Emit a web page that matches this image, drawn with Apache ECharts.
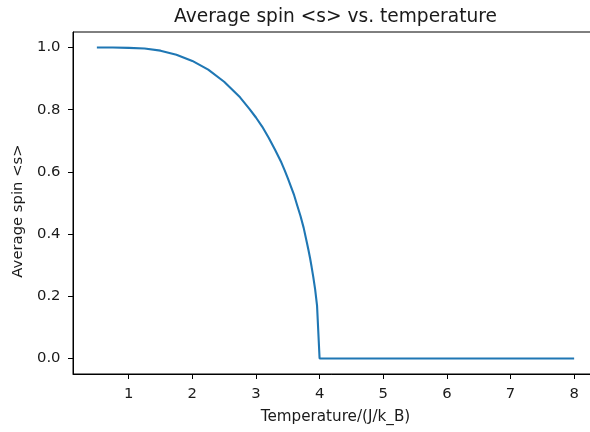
<!DOCTYPE html>
<html>
<head>
<meta charset="utf-8">
<script src="https://cdn.jsdelivr.net/npm/echarts@6/dist/echarts.min.js"></script>
<style>
  html, body { margin: 0; padding: 0; background: #fff; }
  #chart { width: 590px; height: 432px; }
</style>
</head>
<body>
<div id="chart"></div>
<script>
// Mean-field magnetisation: temperature (J/k_B) and average spin <s>
var temperature = [0.5, 0.75, 1.0, 1.25, 1.5, 1.75, 2.0, 2.25, 2.5, 2.75, 2.9, 3.0, 3.1, 3.2, 3.3, 3.4, 3.45, 3.5, 3.55, 3.6, 3.65, 3.7, 3.75, 3.8, 3.825, 3.85, 3.875, 3.9, 3.93, 3.96, 4.0, 5.0, 6.0, 7.0, 8.0];
var avgSpin     = [1.0, 1.0, 0.999, 0.997, 0.990, 0.977, 0.957, 0.929, 0.890, 0.840, 0.802, 0.775, 0.745, 0.710, 0.671, 0.630, 0.606, 0.580, 0.553, 0.525, 0.491, 0.458, 0.420, 0.373, 0.349, 0.323, 0.294, 0.263, 0.222, 0.170, 0.0, 0.0, 0.0, 0.0, 0.0];

// Tick labels
var xTicks = [1, 2, 3, 4, 5, 6, 7, 8];
var yTicks = [0.0, 0.2, 0.4, 0.6, 0.8, 1.0];

var titleText = 'Average spin <s> vs. temperature';
var xName = 'Temperature/(J/k_B)';
var yName = 'Average spin <s>';

var seriesData = temperature.map(function (t, i) { return [t, avgSpin[i]]; });

var font = 'DejaVu Sans';
var ink = '#1a1a1a';

var chart = echarts.init(document.getElementById('chart'), null, { renderer: 'canvas' });
chart.setOption({
  animation: false,
  backgroundColor: '#fff',
  title: {
    text: titleText,
    left: 335.5,
    top: 8,
    textAlign: 'center',
    padding: 0,
    textStyle: { fontFamily: font, fontSize: 18.6, fontWeight: 'normal', color: ink }
  },
  grid: {
    left: 73, top: 32, width: 525, height: 342,
    outerBoundsMode: 'none',
    containLabel: false,
    show: true, borderColor: '#000', borderWidth: 1, backgroundColor: 'transparent'
  },
  xAxis: {
    type: 'value',
    min: 0.125, max: 8.375,
    name: xName,
    nameLocation: 'middle',
    nameGap: 36,
    nameTextStyle: { fontFamily: font, fontSize: 15.2, color: ink },
    axisLine: { show: true, onZero: false, lineStyle: { color: '#000', width: 1 } },
    axisTick: { show: true, customValues: xTicks, length: 5, inside: false, lineStyle: { color: '#000', width: 1 } },
    axisLabel: {
      customValues: xTicks, margin: 12.5,
      fontFamily: font, fontSize: 14.8, color: ink,
      formatter: function (v) { return String(v); }
    },
    splitLine: { show: false }
  },
  yAxis: {
    type: 'value',
    min: -0.05, max: 1.05,
    name: yName,
    nameLocation: 'middle',
    nameGap: 46,
    nameRotate: 90,
    nameTextStyle: { fontFamily: font, fontSize: 14.8, color: ink, padding: [0, 16, 0, 0] },
    axisLine: { show: true, onZero: false, lineStyle: { color: '#000', width: 1 } },
    axisTick: { show: true, customValues: yTicks, length: 5, inside: false, lineStyle: { color: '#000', width: 1 } },
    axisLabel: {
      customValues: yTicks, margin: 12.5,
      fontFamily: font, fontSize: 14.8, color: ink,
      formatter: function (v) { return v.toFixed(1); }
    },
    splitLine: { show: false }
  },
  series: [{
    type: 'line',
    data: seriesData,
    showSymbol: false,
    smooth: false,
    lineStyle: { color: '#1f77b4', width: 2.1 },
    itemStyle: { color: '#1f77b4' }
  }]
});
</script>
</body>
</html>
